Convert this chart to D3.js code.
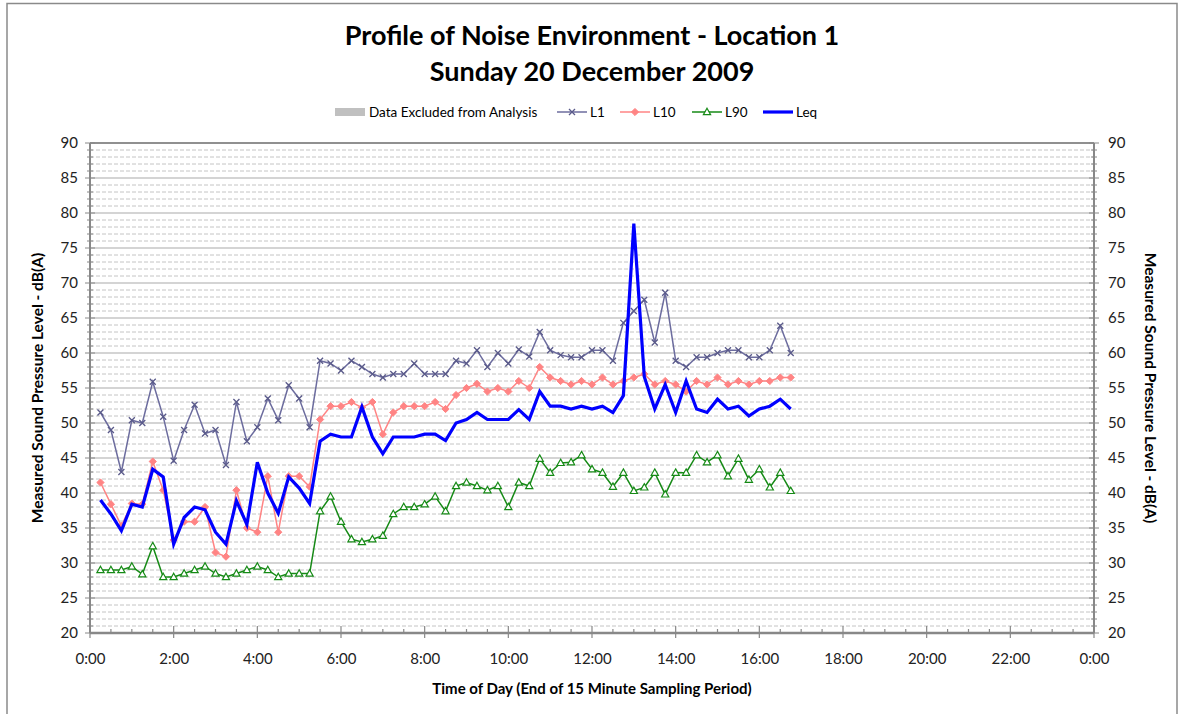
<!DOCTYPE html>
<meta charset="utf-8">
<body style="margin:0;background:#fff">
<svg width="1184" height="714"></svg>
<script src="https://d3js.org/d3.v7.min.js"></script>
<script>
  // sampling: end of each 15 minute period, from 0:15 on Sunday 20 Dec 2009
  var firstSample = new Date(2009, 11, 20, 0, 15);
  var sampleMinutes = 15;

  var l1 = [51.5, 49, 43, 50.4, 50, 55.9, 50.9, 44.6, 49, 52.6, 48.5, 49, 44, 53, 47.4, 49.4, 53.5, 50.4, 55.4, 53.5, 49.4,
    58.9, 58.5, 57.5, 58.9, 58, 57, 56.5, 57, 57, 58.5, 57, 57, 57, 58.9, 58.5, 60.4, 58, 60, 58.5, 60.5, 59.5, 63, 60.4, 59.7,
    59.4, 59.4, 60.4, 60.4, 58.9, 64.3, 66, 67.6, 61.5, 68.6, 58.9, 58, 59.4, 59.4, 60, 60.4, 60.4, 59.4, 59.4, 60.4, 63.9, 60];
  var l10 = [41.5, 38.4, 35.3, 38.5, 38.4, 44.5, 40.4, 33.3, 35.9, 35.9, 38, 31.5, 30.9, 40.4, 35, 34.4, 42.4, 34.4, 42.4, 42.4, 40.9,
    50.5, 52.4, 52.4, 53, 52.2, 53, 48.4, 51.5, 52.4, 52.4, 52.4, 53, 52, 54, 55, 55.6, 54.5, 55, 54.5, 56, 55, 58, 56.5, 56,
    55.5, 56, 55.5, 56.5, 55.5, 56, 56.5, 57, 55.5, 56, 55.5, 54.5, 56, 55.5, 56.5, 55.5, 56, 55.5, 56, 56, 56.5, 56.5];
  var l90 = [29, 29, 29, 29.5, 28.4, 32.4, 28, 28, 28.5, 29, 29.5, 28.5, 28, 28.5, 29, 29.5, 29, 28, 28.5, 28.5, 28.5,
    37.4, 39.5, 35.9, 33.4, 33, 33.4, 33.9, 37, 38, 38, 38.4, 39.5, 37.4, 41, 41.5, 41, 40.4, 41, 38, 41.5, 41, 44.9, 42.9, 44.3,
    44.4, 45.4, 43.4, 42.9, 40.9, 42.9, 40.3, 40.8, 42.9, 39.8, 42.9, 42.9, 45.4, 44.4, 45.4, 42.4, 44.9, 41.9, 43.4, 40.8, 42.9, 40.3];
  var leq = [39, 37, 34.6, 38.4, 38, 43.4, 42.3, 32.7, 36.5, 38, 37.6, 34.4, 32.7, 38.9, 35.5, 44.4, 40, 37.1, 42.3, 40.7, 38.5,
    47.4, 48.4, 48, 48, 52.3, 48, 45.6, 48, 48, 48, 48.4, 48.4, 47.5, 50, 50.5, 51.5, 50.5, 50.5, 50.5, 51.9, 50.5, 54.5, 52.4, 52.4,
    52, 52.4, 52, 52.4, 51.5, 53.9, 78.5, 56.6, 52, 55.5, 51.5, 56, 52, 51.5, 53.4, 52, 52.4, 51, 52, 52.4, 53.4, 52];

  var yTicks = [20, 25, 30, 35, 40, 45, 50, 55, 60, 65, 70, 75, 80, 85, 90];
  var titleLines = ['Profile of Noise Environment - Location 1', 'Sunday 20 December 2009'];

  var times = leq.map(function (d, i) {
    return d3.timeMinute.offset(firstSample, i * sampleMinutes);
  });

  var svg = d3.select('svg');
  var plotL = 90, plotR = 1094, plotT = 143, plotB = 633;
  var tickFont = 'Lato, "DejaVu Sans", sans-serif';
  var boldFont = 'Lato, "Liberation Sans", sans-serif';

  var x = d3.scaleTime()
    .domain([new Date(2009, 11, 20, 0, 0), new Date(2009, 11, 21, 0, 0)])
    .range([plotL, plotR]);
  var y = d3.scaleLinear().domain([20, 90]).range([plotB, plotT]);

  // outer frame
  svg.append('rect')
    .attr('x', 7).attr('y', 3.5).attr('width', 1170).attr('height', 730)
    .attr('fill', 'none').attr('stroke', '#8a8a8a').attr('stroke-width', 1.5);

  // title
  svg.selectAll('.title').data(titleLines).enter().append('text')
    .attr('x', 592).attr('y', function (d, i) { return 45 + i * 36; })
    .attr('text-anchor', 'middle')
    .style('font-family', boldFont).style('font-weight', 'bold').style('font-size', '27px')
    .text(function (d) { return d; });

  // gridlines
  var g = svg.append('g');
  g.selectAll('.minor').data(d3.range(21, 90).filter(function (v) { return v % 5 !== 0; }))
    .enter().append('line')
    .attr('x1', plotL).attr('x2', plotR)
    .attr('y1', function (d) { return y(d); }).attr('y2', function (d) { return y(d); })
    .attr('stroke', '#c4c4c4').attr('stroke-dasharray', '4,2');
  g.selectAll('.major').data(yTicks.slice(1, -1)).enter().append('line')
    .attr('x1', plotL).attr('x2', plotR)
    .attr('y1', function (d) { return y(d); }).attr('y2', function (d) { return y(d); })
    .attr('stroke', '#d4d4d4').attr('stroke-width', 2);
  g.append('line')
    .attr('x1', plotL).attr('x2', plotR).attr('y1', y(90)).attr('y2', y(90))
    .attr('stroke', '#222').attr('stroke-width', 1.2);

  // axis lines and ticks
  var axisColor = '#888';
  [plotL, plotR].forEach(function (ax) {
    g.append('line').attr('x1', ax).attr('x2', ax).attr('y1', plotT).attr('y2', plotB)
      .attr('stroke', axisColor).attr('stroke-width', 2);
    g.selectAll(null).data(d3.range(20, 91)).enter().append('line')
      .attr('x1', function (d) { return ax - (d % 5 === 0 ? 5 : 3); })
      .attr('x2', function (d) { return ax + (d % 5 === 0 ? 5 : 3); })
      .attr('y1', function (d) { return y(d); }).attr('y2', function (d) { return y(d); })
      .attr('stroke', axisColor).attr('stroke-width', 1);
  });
  g.append('line').attr('x1', plotL).attr('x2', plotR).attr('y1', plotB).attr('y2', plotB)
    .attr('stroke', axisColor).attr('stroke-width', 2.5);
  var halfHours = d3.timeMinute.every(30).range(x.domain()[0], d3.timeMinute.offset(x.domain()[1], 1));
  g.selectAll(null).data(halfHours).enter().append('line')
    .attr('x1', function (d) { return x(d); }).attr('x2', function (d) { return x(d); })
    .attr('y1', function (d) { return d.getMinutes() === 0 && d.getHours() % 2 === 0 ? plotB - 7 : plotB - 4; })
    .attr('y2', function (d) { return d.getMinutes() === 0 && d.getHours() % 2 === 0 ? plotB + 5 : plotB; })
    .attr('stroke', axisColor).attr('stroke-width', 1.2);

  // tick labels
  var leftAxis = d3.axisLeft(y).tickValues(yTicks).tickSize(0).tickPadding(12);
  var rightAxis = d3.axisRight(y).tickValues(yTicks).tickSize(0).tickPadding(14);
  var bottomAxis = d3.axisBottom(x).ticks(d3.timeHour.every(2))
    .tickFormat(d3.timeFormat('%-H:%M')).tickSize(0).tickPadding(20);
  [svg.append('g').attr('transform', 'translate(' + plotL + ',0)').call(leftAxis),
   svg.append('g').attr('transform', 'translate(' + plotR + ',0)').call(rightAxis),
   svg.append('g').attr('transform', 'translate(0,' + plotB + ')').call(bottomAxis)
  ].forEach(function (a) {
    a.select('.domain').remove();
    a.selectAll('text').style('font-family', tickFont).style('font-size', '15px').attr('fill', '#222');
  });

  // axis titles
  svg.append('text')
    .attr('transform', 'translate(43,388) rotate(-90)')
    .attr('text-anchor', 'middle')
    .style('font-family', boldFont).style('font-weight', 'bold').style('font-size', '15.5px')
    .text('Measured Sound Pressure Level - dB(A)');
  svg.append('text')
    .attr('transform', 'translate(1145,388) rotate(90)')
    .attr('text-anchor', 'middle')
    .style('font-family', boldFont).style('font-weight', 'bold').style('font-size', '15.5px')
    .text('Measured Sound Pressure Level - dB(A)');
  svg.append('text')
    .attr('x', 592).attr('y', 694)
    .attr('text-anchor', 'middle')
    .style('font-family', boldFont).style('font-weight', 'bold').style('font-size', '15px')
    .text('Time of Day (End of 15 Minute Sampling Period)');

  // series
  var series = [
    {name: 'L1', values: l1, color: '#6c6c9e', width: 1.5, marker: 'cross'},
    {name: 'L10', values: l10, color: '#ff8484', width: 1.5, marker: 'diamond'},
    {name: 'L90', values: l90, color: '#168a16', width: 1.5, marker: 'triangle'},
    {name: 'Leq', values: leq, color: '#0000ff', width: 3.2, marker: null}
  ];

  var line = d3.line()
    .x(function (d, i) { return x(times[i]); })
    .y(function (d) { return y(d); });

  function drawMarker(sel, type, color) {
    if (type === 'cross') {
      sel.append('path').attr('d', 'M-3,-3L3,3M-3,3L3,-3')
        .attr('stroke', '#5a5a8a').attr('stroke-width', 1.3).attr('fill', 'none');
    } else if (type === 'diamond') {
      sel.append('path').attr('d', 'M0,-3.6L3.6,0L0,3.6L-3.6,0Z')
        .attr('fill', color).attr('stroke', color);
    } else if (type === 'triangle') {
      sel.append('path').attr('d', 'M0,-3.8L3.6,2.6L-3.6,2.6Z')
        .attr('fill', '#fff').attr('stroke', color).attr('stroke-width', 1.2);
    }
  }

  var plot = svg.append('g');
  series.forEach(function (s) {
    plot.append('path')
      .attr('d', line(s.values))
      .attr('fill', 'none')
      .attr('stroke', s.color)
      .attr('stroke-width', s.width)
      .attr('stroke-linejoin', 'miter');
    if (s.marker) {
      plot.selectAll(null).data(s.values).enter().append('g')
        .attr('transform', function (d, i) { return 'translate(' + x(times[i]) + ',' + y(d) + ')'; })
        .each(function () { drawMarker(d3.select(this), s.marker, s.color); });
    }
  });

  // legend
  var legend = svg.append('g').style('font-family', tickFont).style('font-size', '13.5px');
  legend.append('rect').attr('x', 335).attr('y', 108).attr('width', 30).attr('height', 8).attr('fill', '#c0c0c0');
  legend.append('text').attr('x', 369).attr('y', 117).text('Data Excluded from Analysis');
  var legendX = {L1: 557, L10: 620, L90: 692, Leq: 763};
  series.forEach(function (s) {
    var lx = legendX[s.name];
    var item = legend.append('g');
    item.append('line').attr('x1', lx).attr('x2', lx + 30).attr('y1', 112).attr('y2', 112)
      .attr('stroke', s.color).attr('stroke-width', s.width);
    if (s.marker) {
      drawMarker(item.append('g').attr('transform', 'translate(' + (lx + 15) + ',112)'), s.marker, s.color);
    }
    item.append('text').attr('x', lx + 33).attr('y', 117).text(s.name);
  });
</script>
</body>
